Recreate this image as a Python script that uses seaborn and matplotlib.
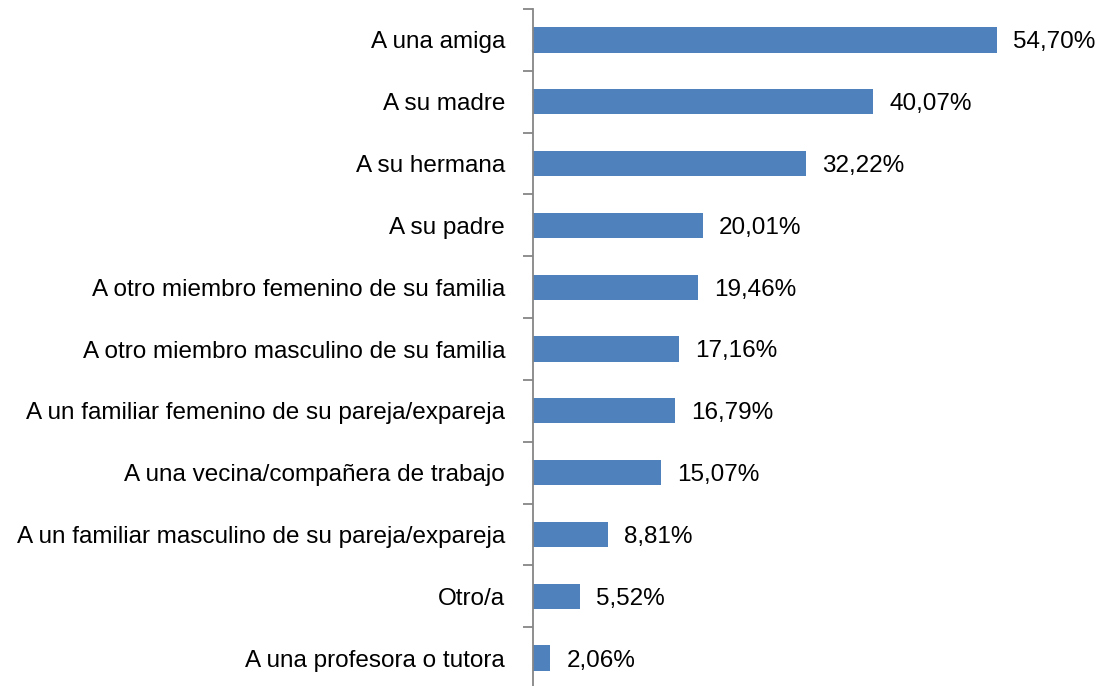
import matplotlib
matplotlib.use("Agg")
import matplotlib.pyplot as plt
import seaborn as sns
import pandas as pd

# Categories and percentages
categories = [
    "A una amiga",
    "A su madre",
    "A su hermana",
    "A su padre",
    "A otro miembro femenino de su familia",
    "A otro miembro masculino de su familia",
    "A un familiar femenino de su pareja/expareja",
    "A una vecina/compañera de trabajo",
    "A un familiar masculino de su pareja/expareja",
    "Otro/a",
    "A una profesora o tutora",
]
values = [54.70, 40.07, 32.22, 20.01, 19.46, 17.16, 16.79, 15.07, 8.81, 5.52, 2.06]

df = pd.DataFrame({"categoria": categories, "porcentaje": values})

sns.set_style("white")
plt.rcParams['font.family'] = ['Liberation Sans', 'DejaVu Sans']

fig = plt.figure(figsize=(11.01, 6.86), dpi=100)
ax = fig.add_axes([533 / 1101, -3 / 686, 509 / 1101, 680 / 686])

sns.barplot(data=df, y="categoria", x="porcentaje", orient="h", color="#4F81BD",
            saturation=1, width=0.41, linewidth=0, ax=ax)

# value labels with comma decimals
for i, v in enumerate(values):
    ax.text(v + 1.9, i + 0.04, f"{v:.2f}%".replace(".", ","), va="center", ha="left",
            fontsize=17.5, color="black", clip_on=False)

ax.set_xlim(0, 60)
ax.set_ylim(len(categories) - 0.5, -0.5)
ax.set_xlabel("")
ax.set_ylabel("")
ax.set_xticks([])

# category ticks sit between bars, like Excel
ax.set_yticks(range(len(categories)))
ax.set_yticklabels(categories, fontsize=17.5, color="black")
ax.tick_params(axis="y", which="major", length=0, pad=20)
ax.set_yticks([i - 0.5 for i in range(len(categories) + 1)], minor=True)
ax.tick_params(axis="y", which="minor", left=True, length=7, width=1.3,
               color="#868686", direction="out")

for side in ["top", "right", "bottom"]:
    ax.spines[side].set_visible(False)
ax.spines["left"].set_color("#868686")
ax.spines["left"].set_linewidth(1.3)

fig.savefig("out.png", dpi=100)
